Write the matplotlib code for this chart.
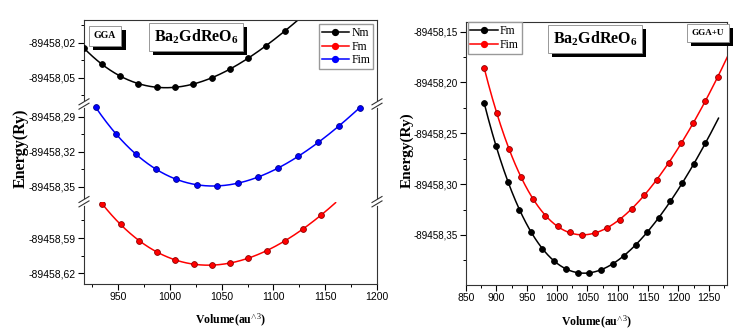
import numpy as np
import matplotlib
matplotlib.use("Agg")
import matplotlib.pyplot as plt
from matplotlib.ticker import FixedLocator, FuncFormatter, MultipleLocator
from matplotlib.lines import Line2D
import matplotlib.patheffects as pe

plt.rcParams['mathtext.fontset'] = 'custom'
plt.rcParams['mathtext.rm'] = 'Liberation Serif'
plt.rcParams['mathtext.bf'] = 'Liberation Serif:bold'
plt.rcParams['mathtext.it'] = 'Liberation Serif:italic'

# ---------------- data: left (GGA) ----------------
vol_nm = [916.7, 934.3, 952.0, 969.6, 987.3, 1004.9, 1022.5, 1040.2, 1057.8, 1075.5, 1093.0, 1110.8]
e_nm = [-89458.0243, -89458.0380, -89458.0483, -89458.0551, -89458.0580, -89458.0580,
        -89458.0551, -89458.0500, -89458.0423, -89458.0329, -89458.0226, -89458.0097]

vol_fim = [928.4, 947.7, 967.0, 986.3, 1006.2, 1026.2, 1045.8, 1065.7, 1085.0, 1104.6, 1123.8, 1143.4, 1163.7, 1183.3]
e_fim = [-89458.2817, -89458.3046, -89458.3217, -89458.3346, -89458.3434, -89458.3480, -89458.3489,
         -89458.3468, -89458.3417, -89458.3340, -89458.3237, -89458.3112, -89458.2977, -89458.2820]

vol_fm = [934.6, 952.6, 969.9, 987.3, 1004.9, 1022.8, 1040.5, 1058.1, 1075.8, 1093.4, 1110.8, 1128.4, 1145.8]
e_fm = [-89458.5609, -89458.5783, -89458.5923, -89458.6020, -89458.6086, -89458.6123, -89458.6134,
        -89458.6114, -89458.6071, -89458.6009, -89458.5926, -89458.5823, -89458.5705]

# ---------------- data: right (GGA+U) ----------------
vol_fm_u = [880.2, 899.5, 918.8, 938.0, 957.8, 975.9, 995.2, 1014.5, 1033.7, 1053.0, 1072.3, 1091.4,
            1110.2, 1129.4, 1148.7, 1168.0, 1186.1, 1206.4, 1225.1, 1244.4]
e_fm_u = [-89458.2205, -89458.2625, -89458.2976, -89458.3251, -89458.3468, -89458.3638, -89458.3753,
          -89458.3832, -89458.3871, -89458.3874, -89458.3841, -89458.3788, -89458.3704, -89458.3599,
          -89458.3468, -89458.3330, -89458.3169, -89458.2991, -89458.2801, -89458.2598]

vol_fim_u = [880.2, 900.7, 920.5, 940.3, 961.1, 980.9, 1001.3, 1021.6, 1041.9, 1062.9, 1082.7, 1103.0,
             1123.4, 1143.7, 1164.0, 1184.2, 1204.3, 1224.1, 1244.4, 1264.7]
e_fim_u = [-89458.1860, -89458.2300, -89458.2654, -89458.2930, -89458.3146, -89458.3310, -89458.3415,
           -89458.3474, -89458.3497, -89458.3480, -89458.3431, -89458.3349, -89458.3244, -89458.3106,
           -89458.2962, -89458.2790, -89458.2598, -89458.2398, -89458.2179, -89458.1949]

left_xticks = [950, 1000, 1050, 1100, 1150, 1200]
right_xticks = [850, 900, 950, 1000, 1050, 1100, 1150, 1200, 1250]

BLACK = '#000000'
RED = '#ff0000'
BLUE = '#0000ff'

W, H = 736, 331
fig = plt.figure(figsize=(W / 100, H / 100), dpi=100)

def fx(px):
    return px / W

def fy(py):
    return 1 - py / H

fmt = FuncFormatter(lambda v, p: f"{v:.2f}".replace('.', ','))


def series(ax, x, y, color, x_end=None, deg=4):
    x = np.asarray(x)
    y = np.asarray(y)
    c = np.polyfit(x - 1050, y - y.mean(), deg)
    xe = x[-1] if x_end is None else x_end
    xs = np.linspace(x[0], xe, 300)
    ax.plot(xs, np.polyval(c, xs - 1050) + y.mean(), color=color, lw=1.1, zorder=2)
    edge = tuple(0.55 * np.array(matplotlib.colors.to_rgb(color)))
    ax.plot(x, y, ls='none', marker='o', ms=4.2, mfc=color, mec=edge, mew=0.6, zorder=3)


def style_axis(ax, show_x, ysize=7.5):
    for s in ax.spines.values():
        s.set_linewidth(0.8)
        s.set_color('#333333')
    ax.tick_params(axis='both', which='major', direction='out', length=4, width=0.8,
                   right=False, top=False, labelsize=7.5, pad=2)
    ax.tick_params(axis='y', which='major', labelsize=ysize)
    ax.tick_params(axis='both', which='minor', direction='out', length=2, width=0.7,
                   right=False, top=False)
    for lab in ax.get_yticklabels() + ax.get_xticklabels():
        lab.set_fontfamily('Liberation Sans')
    ax.yaxis.set_major_formatter(fmt)
    if not show_x:
        ax.tick_params(axis='x', which='both', bottom=False, labelbottom=False)


def shadow_box(x, y, txt, size, pad=0.3):
    t = fig.text(x, y, txt, fontsize=size, fontweight='bold', family='Liberation Serif',
                 ha='center', va='center',
                 bbox=dict(boxstyle=f'square,pad={pad}', fc='white', ec='#888888', lw=0.6))
    t.get_bbox_patch().set_path_effects([
        pe.SimplePatchShadow(offset=(3, -3), shadow_rgbFace='black', alpha=1.0),
        pe.Normal()])
    return t

# ---------------- left broken-axis panel ----------------
L, R = 84, 377
tops = [20, 104, 201.7]
bots = [104, 201.7, 284]
ylims = [(-89458.0723, -89458.0003), (-89458.3626, -89458.2789), (-89458.6294, -89458.5589)]
majors = [[-89458.05, -89458.02], [-89458.35, -89458.32, -89458.29], [-89458.62, -89458.59]]
minors = [[-89458.065, -89458.035, -89458.005], [-89458.335, -89458.305], [-89458.605, -89458.575]]
axes_l = []
for i in range(3):
    ax = fig.add_axes([fx(L), fy(bots[i]), fx(R - L), (bots[i] - tops[i]) / H])
    ax.set_xlim(917, 1200)
    ax.set_ylim(*ylims[i])
    ax.yaxis.set_major_locator(FixedLocator(majors[i]))
    ax.yaxis.set_minor_locator(FixedLocator(minors[i]))
    ax.xaxis.set_major_locator(FixedLocator(left_xticks))
    ax.xaxis.set_minor_locator(MultipleLocator(25))
    if i > 0:
        ax.spines['top'].set_visible(False)
    if i < 2:
        ax.spines['bottom'].set_visible(False)
    style_axis(ax, show_x=(i == 2))
    axes_l.append(ax)

series(axes_l[0], vol_nm, e_nm, BLACK, x_end=1130)
series(axes_l[1], vol_fim, e_fim, BLUE)
series(axes_l[2], vol_fm, e_fm, RED, x_end=1160)

# break marks
for yb in [104, 201.7]:
    for xb in [L, R]:
        fig.add_artist(Line2D([fx(xb), fx(xb)], [fy(yb - 2.2), fy(yb + 2.2)], color='white', lw=2))
        for dy in (-2.2, 2.2):
            fig.add_artist(Line2D([fx(xb - 5), fx(xb + 5)], [fy(yb + dy + 3), fy(yb + dy - 3)],
                                  color='#333333', lw=0.8))

handles = [Line2D([], [], color=c, marker='o', ms=4.2, mfc=c, mec=c, lw=1.1)
           for c in (BLACK, RED, BLUE)]
axes_l[0].legend(handles, ['Nm', 'Fm', 'Fim'], loc='upper right',
                 bbox_to_anchor=(fx(373), fy(24)), bbox_transform=fig.transFigure,
                 prop=dict(family='Liberation Serif', size=8.5), frameon=True, fancybox=False,
                 edgecolor='#999999', handlelength=2.3, handletextpad=0.2, borderpad=0.25,
                 labelspacing=0.15, borderaxespad=0, framealpha=1)

shadow_box(fx(105), fy(36), 'GGA', 7, pad=0.55)
shadow_box(fx(196), fy(37), r'Ba$_{\mathbf{2}}$GdReO$_{\mathbf{6}}$', 11.5)

fig.text(fx(21), fy(148), 'Energy(Ry)', rotation=90, ha='center', va='center',
         fontsize=11.5, fontweight='bold', family='Liberation Serif')
fig.text(fx(231), fy(320), r'Volume(au$^{\wedge 3}$)', ha='center', va='center',
         fontsize=8.5, fontweight='bold', family='Liberation Serif')

# ---------------- right panel ----------------
axr = fig.add_axes([fx(466), fy(285), fx(727 - 466), (285 - 21.7) / H])
axr.set_xlim(850, 1280)
axr.set_ylim(-89458.3992, -89458.1402)
axr.yaxis.set_major_locator(FixedLocator([-89458.35, -89458.30, -89458.25, -89458.20, -89458.15]))
axr.yaxis.set_minor_locator(FixedLocator([-89458.375, -89458.325, -89458.275, -89458.225, -89458.175]))
axr.xaxis.set_major_locator(FixedLocator(right_xticks))
axr.xaxis.set_minor_locator(MultipleLocator(25))
style_axis(axr, show_x=True, ysize=7.1)
series(axr, vol_fm_u, e_fm_u, BLACK, x_end=1266)
series(axr, vol_fim_u, e_fim_u, RED, x_end=1282)

handles_r = [Line2D([], [], color=c, marker='o', ms=4.2, mfc=c, mec=c, lw=1.1) for c in (BLACK, RED)]
axr.legend(handles_r, ['Fm', 'Fim'], loc='upper left',
           bbox_to_anchor=(fx(467.5), fy(22.5)), bbox_transform=fig.transFigure,
           prop=dict(family='Liberation Serif', size=8.5), frameon=True, fancybox=False,
           edgecolor='#999999', handlelength=2.3, handletextpad=0.2, borderpad=0.25,
           labelspacing=0.15, borderaxespad=0, framealpha=1)

shadow_box(fx(595), fy(39), r'Ba$_{\mathbf{2}}$GdReO$_{\mathbf{6}}$', 11.5)
shadow_box(fx(708), fy(33), 'GGA+U', 6.5, pad=0.55)

fig.text(fx(407), fy(150), 'Energy(Ry)', rotation=90, ha='center', va='center',
         fontsize=11, fontweight='bold', family='Liberation Serif')
fig.text(fx(597), fy(322), r'Volume(au$^{\wedge 3}$)', ha='center', va='center',
         fontsize=8.5, fontweight='bold', family='Liberation Serif')

fig.savefig('out.png', dpi=100)
